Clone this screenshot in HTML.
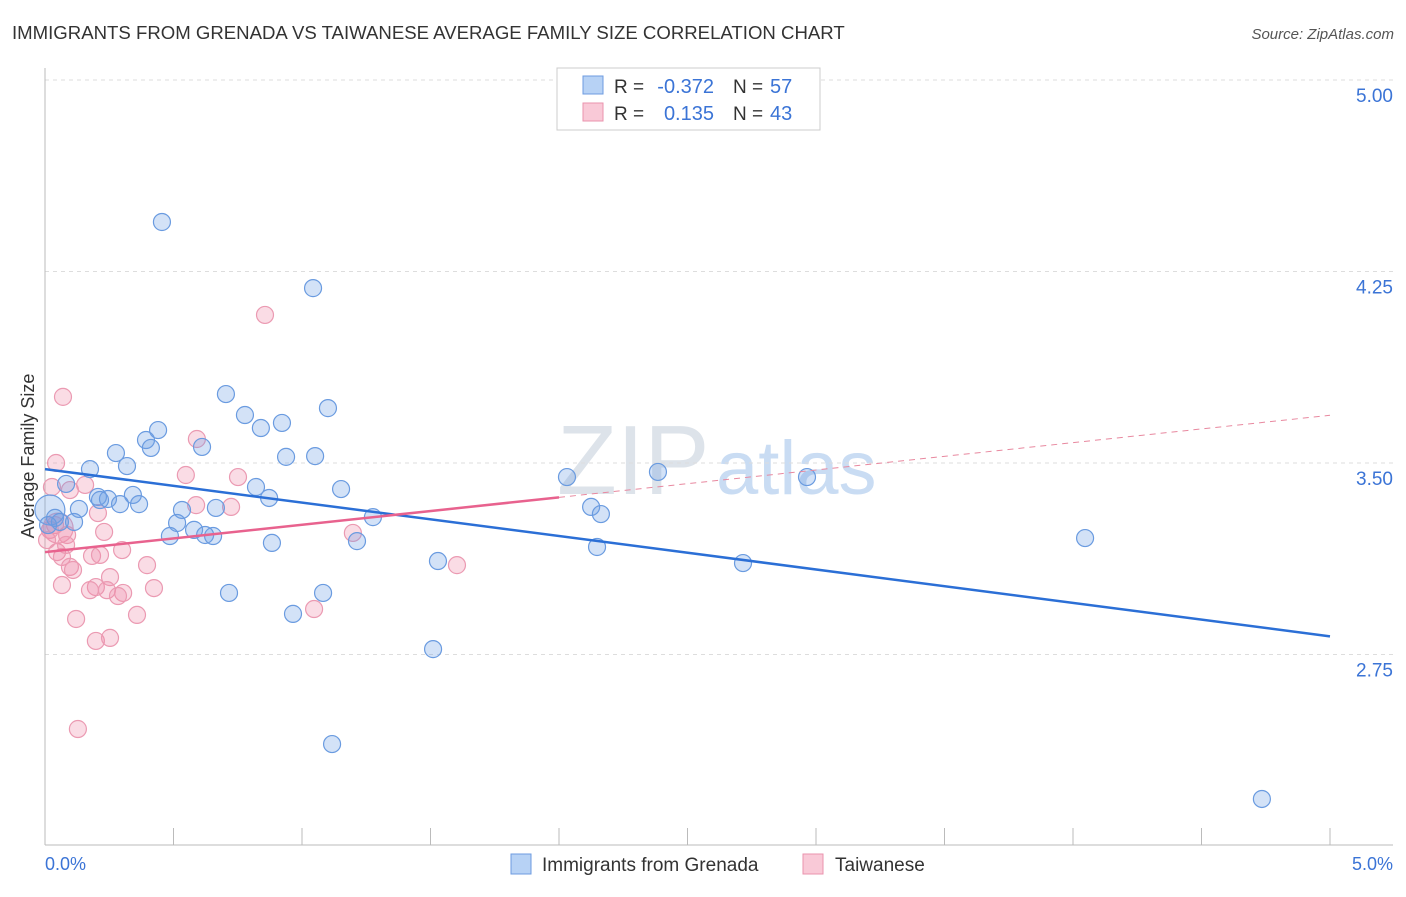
<!DOCTYPE html>
<html><head><meta charset="utf-8"><style>
body{margin:0;background:#fff;font-family:"Liberation Sans",sans-serif}
svg text{font-family:"Liberation Sans",sans-serif}
</style></head><body>
<svg id="c" width="1406" height="892">
<text x="12" y="39" font-size="18.6" fill="#333">IMMIGRANTS FROM GRENADA VS TAIWANESE AVERAGE FAMILY SIZE CORRELATION CHART</text>
<text x="1394" y="39" font-size="15" fill="#555" font-style="italic" text-anchor="end">Source: ZipAtlas.com</text>
<text x="557" y="494" font-size="98" fill="#dde3ea" font-family="Liberation Serif">ZIP</text>
<text x="716" y="494" font-size="76" fill="#c9dcf3">atlas</text>
<text transform="translate(34,456) rotate(-90)" font-size="18" fill="#333" text-anchor="middle">Average Family Size</text>
<g id="grid"></g><g id="ticks"></g><g id="pts"></g><g id="lines"></g>
<g>
<rect x="557" y="68" width="263" height="62" fill="#fff" stroke="#ccc"/>
<rect x="583" y="76" width="20" height="18" fill="#b7d2f5" stroke="#6d9be0"/>
<rect x="583" y="103" width="20" height="18" fill="#f9c9d7" stroke="#ea93ad"/>
<text x="614" y="93" font-size="19" fill="#333">R =</text>
<text x="714" y="93" font-size="20" fill="#3b74d6" text-anchor="end">-0.372</text>
<text x="733" y="93" font-size="19" fill="#333">N =</text>
<text x="770" y="93" font-size="20" fill="#3b74d6">57</text>
<text x="614" y="120" font-size="19" fill="#333">R =</text>
<text x="714" y="120" font-size="20" fill="#3b74d6" text-anchor="end">0.135</text>
<text x="733" y="120" font-size="19" fill="#333">N =</text>
<text x="770" y="120" font-size="20" fill="#3b74d6">43</text>
</g>
<g>
<rect x="511" y="854" width="20" height="20" fill="#b7d2f5" stroke="#6d9be0"/>
<text x="542" y="871" font-size="19" fill="#333">Immigrants from Grenada</text>
<rect x="803" y="854" width="20" height="20" fill="#f9c9d7" stroke="#ea93ad"/>
<text x="835" y="871" font-size="19" fill="#333">Taiwanese</text>
</g>
<text x="45" y="870" font-size="18" fill="#3b74d6">0.0%</text>
<text x="1393" y="870" font-size="18" fill="#3b74d6" text-anchor="end">5.0%</text>
</svg>
<script>
const blueX=[.455,1.043,.704,1.101,.778,.922,.840,.440,.393,.412,.611,.276,.938,1.051,.319,.175,.082,.821,1.152,.342,.206,.245,.872,.292,.366,.132,.533,.665,.019,.039,.113,.514,1.276,.580,.486,.623,.654,1.214,.883,.716,1.082,.965,1.510,1.529,1.117,2.031,2.125,2.163,2.148,2.385,2.716,2.965,4.047,4.735,.058,.012,.214];
const blueY=[4.444,4.185,3.770,3.715,3.688,3.657,3.637,3.629,3.590,3.559,3.563,3.539,3.524,3.527,3.488,3.476,3.418,3.406,3.398,3.375,3.367,3.359,3.363,3.339,3.339,3.320,3.316,3.324,3.316,3.285,3.269,3.265,3.288,3.238,3.214,3.218,3.214,3.194,3.187,2.991,2.991,2.909,2.771,3.116,2.399,3.445,3.328,3.300,3.171,3.465,3.108,3.445,3.206,2.184,3.269,3.257,3.355];
const pinkX=[.856,.070,.043,.591,.548,.751,.027,.097,.156,.588,.724,.206,.039,.051,.230,.086,1.198,.047,.066,.300,.183,.214,.097,.109,.397,1.603,.253,.066,.198,.424,.175,.241,.304,.284,.358,1.047,.121,.198,.253,.128,.019,.082,.008];
const pinkY=[4.080,3.759,3.500,3.594,3.453,3.445,3.406,3.394,3.414,3.335,3.328,3.304,3.257,3.245,3.230,3.218,3.226,3.151,3.132,3.159,3.136,3.140,3.093,3.081,3.100,3.100,3.053,3.022,3.014,3.010,3.002,3.002,2.991,2.979,2.905,2.928,2.889,2.803,2.815,2.458,3.238,3.179,3.198];
const yTicks=[5.00,4.25,3.50,2.75];
const blueTrend=[3.476,2.821];
const pinkTrend=[3.151,3.687];
const pinkSolidEnd=2.0;
const NS="http://www.w3.org/2000/svg";
const sx=v=>45+v/5*1285, sy=v=>463-(v-3.5)*255.3;
function mk(t,a,p){const e=document.createElementNS(NS,t);for(const k in a)e.setAttribute(k,a[k]);p.appendChild(e);return e;}
const grid=document.getElementById('grid'),ticks=document.getElementById('ticks'),pts=document.getElementById('pts'),lines=document.getElementById('lines');
yTicks.forEach(v=>{const l=mk('line',{x1:45,x2:1393,y1:sy(v),y2:sy(v),stroke:'#ddd','stroke-dasharray':'4,4'},grid);


const t=mk('text',{x:1393,y:sy(v)+22,'font-size':19,fill:'#3b74d6','text-anchor':'end'},grid);t.textContent=v.toFixed(2);

});
mk('line',{x1:45,x2:45,y1:68,y2:845,stroke:'#bbb'},ticks);
mk('line',{x1:45,x2:1393,y1:845,y2:845,stroke:'#bbb'},ticks);
for(let i=0;i<=10;i++){const l=mk('line',{x1:sx(i*.5),x2:sx(i*.5),y1:828,y2:845,stroke:'#bbb'},ticks);

}
function dots(X,Y,fill,stroke,name,bigIdx){X.forEach((x,i)=>{const big=i===bigIdx;const c=mk('circle',{cx:sx(x),cy:sy(Y[i]),r:big?15:8.5,fill:fill,stroke:stroke,'stroke-width':1.2},pts);

});}
dots(pinkX,pinkY,'rgba(240,140,170,0.3)','#eb9ab2','taiwanese-point',13);
dots(blueX,blueY,'rgba(110,160,230,0.3)','#6a9be0','grenada-point',28);
const bl=mk('line',{x1:sx(0),y1:sy(blueTrend[0]),x2:sx(5),y2:sy(blueTrend[1]),stroke:'#2b6fd6','stroke-width':2.5},lines);


const pm=pinkTrend[0]+(pinkTrend[1]-pinkTrend[0])*pinkSolidEnd/5;
const pl=mk('line',{x1:sx(0),y1:sy(pinkTrend[0]),x2:sx(pinkSolidEnd),y2:sy(pm),stroke:'#e8628e','stroke-width':2.5},lines);


const pd=mk('line',{x1:sx(pinkSolidEnd),y1:sy(pm),x2:sx(5),y2:sy(pinkTrend[1]),stroke:'#e8889f','stroke-width':1,'stroke-dasharray':'6,5'},lines);


</script>
</body></html>
